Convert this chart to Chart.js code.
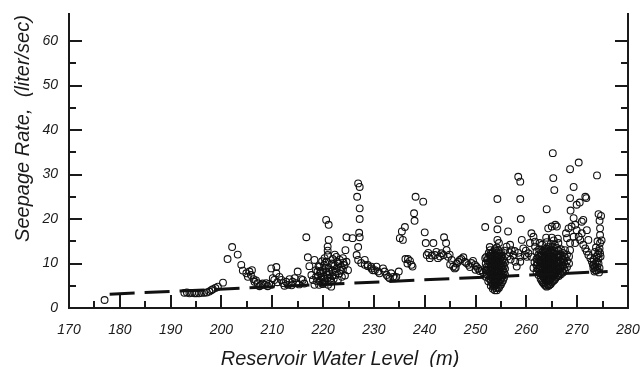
<!DOCTYPE html>
<html>
<head>
<meta charset="utf-8">
<script src="https://cdn.jsdelivr.net/npm/chart.js@4/dist/chart.umd.min.js"></script>
<style>
  html, body { margin: 0; padding: 0; background: #fff; }
  #wrap { width: 641px; height: 367px; }
</style>
</head>
<body>
<div id="wrap"><canvas id="chart"></canvas></div>
<script>
// axis ranges / ticks
const xRange = [170, 280];
const yRange = [0, 66.3];
const xTickLabels = [170, 180, 190, 200, 210, 220, 230, 240, 250, 260, 270, 280];
const yTickLabels = [0, 10, 20, 30, 40, 50, 60];

// fitted trend (dashed)
const trendLevel = [178, 276];
const trendRate = [3.1, 8.2];

// observations: [reservoir level (m), seepage (l/s)], grouped by level band
const band190 = [
  [177, 1.8], [192.7, 3.4], [193.2, 3.5], [193.7, 3.3], [194.2, 3.4], [194.7, 3.3], [195.1, 3.3],
  [195.6, 3.3], [196.1, 3.4], [196.6, 3.4], [197.1, 3.5], [197.6, 3.7], [198.0, 4.0], [198.3, 4.2],
  [198.8, 4.5], [199.3, 4.8], [200.3, 5.7]
];
const band205 = [
  [201.2, 11.0], [202.1, 13.7], [203.2, 12.0], [203.9, 9.7], [204.2, 8.4], [204.9, 7.8], [205.2, 7.0],
  [205.5, 8.2], [206.0, 8.5], [205.8, 7.4], [206.3, 6.5], [206.5, 5.9], [206.8, 6.2], [207.1, 5.6],
  [207.5, 4.9], [207.8, 5.2], [208.1, 5.5], [208.5, 5.2], [208.8, 5.6], [209.1, 4.9], [209.4, 5.4],
  [209.8, 5.2], [209.8, 8.9], [210.8, 9.2], [210.1, 6.7], [210.4, 6.3], [210.8, 7.8], [211.0, 5.8],
  [211.4, 7.0], [211.8, 6.3], [212.1, 5.6], [212.4, 5.0], [212.7, 5.9], [213.1, 5.2], [213.4, 6.5],
  [213.8, 5.1], [214.0, 5.9], [214.4, 6.7], [214.7, 5.6], [215.0, 8.2], [215.3, 5.3], [215.7, 6.5],
  [216.0, 6.3], [216.3, 5.5], [216.7, 15.9], [217.0, 11.4], [217.3, 9.4], [217.7, 7.4], [218.0, 6.3],
  [218.3, 5.2], [218.3, 10.8], [218.6, 8.5]
];
const band225 = [
  [220.6, 19.8], [221.1, 18.7], [221.1, 15.3], [220.9, 13.8], [220.9, 12.9], [220.9, 11.9], [222.6, 11.5],
  [223.3, 10.8], [223.9, 11.2], [224.6, 15.9], [225.8, 15.7], [224.4, 13.0], [219.3, 9.3], [220.0, 8.5],
  [221.6, 4.8], [224.6, 10.4], [224.9, 8.5], [218.8, 6.0], [219.0, 7.2], [219.2, 5.2], [219.5, 8.3],
  [219.6, 6.4], [219.8, 5.5], [220.1, 7.1], [220.2, 9.6], [220.4, 6.0], [220.6, 8.0], [220.7, 10.4],
  [220.9, 6.8], [221.1, 9.0], [221.3, 7.6], [221.5, 5.9], [221.7, 10.0], [221.9, 8.4], [222.1, 6.6],
  [222.2, 9.4], [222.4, 7.4], [222.7, 8.9], [222.9, 6.3], [223.0, 10.0], [223.2, 7.8], [223.5, 9.2],
  [223.7, 7.0], [223.9, 8.6], [224.2, 9.6], [224.3, 7.3], [219.8, 10.5], [220.3, 11.2], [221.9, 11.0],
  [222.3, 12.0], [219.4, 7.8], [220.0, 5.4], [218.6, 7.0], [221.0, 5.2],
  [218.9, 8.2], [219.3, 6.1], [219.7, 7.0], [220.2, 6.6], [220.5, 9.0], [220.8, 7.4], [221.2, 8.2],
  [221.4, 6.6], [221.8, 7.2], [222.0, 9.8], [222.5, 8.2], [222.8, 10.4], [223.4, 8.4], [224.0, 10.2],
  [219.1, 9.4], [220.4, 10.2],
  [226.9, 28.0], [227.2, 27.2], [226.7, 25.0], [227.2, 22.4], [227.2, 20.0], [227.1, 16.9], [227.2, 15.9],
  [226.9, 13.7], [226.6, 11.9], [226.9, 10.8], [227.5, 10.1], [228.2, 9.7], [228.8, 9.4], [229.5, 8.9],
  [230.2, 8.5], [230.8, 8.2], [228.2, 10.8], [228.8, 9.7], [229.5, 9.3], [229.8, 8.5], [230.5, 9.3],
  [231.1, 7.8], [231.8, 8.9], [232.1, 8.2], [232.5, 7.4], [232.8, 7.0], [233.1, 6.7], [233.8, 7.0],
  [234.1, 6.7], [233.4, 7.8], [234.4, 7.0], [234.9, 8.2]
];
const band245 = [
  [235.1, 15.7], [235.5, 17.2], [236.1, 18.2], [235.7, 15.3], [236.2, 11.0], [236.7, 11.0], [237.1, 10.6],
  [236.6, 10.0], [237.4, 9.7], [237.6, 9.3], [237.9, 21.3], [238.0, 19.6], [238.2, 25.0], [239.7, 23.9],
  [240.0, 17.0], [240.2, 14.6], [241.7, 14.6], [243.8, 15.9], [244.2, 14.6], [240.4, 11.9], [241.0, 11.2],
  [242.0, 11.9], [242.6, 11.2], [243.3, 12.3], [244.3, 13.0], [244.6, 11.5], [245.3, 10.8], [245.6, 9.3],
  [245.9, 8.9], [246.3, 10.0], [246.9, 10.8], [247.6, 11.4], [247.9, 10.4], [248.6, 9.7], [249.5, 10.6],
  [249.9, 9.7], [250.5, 8.9], [251.2, 8.5], [251.9, 18.2], [251.9, 11.2], [252.2, 8.5], [240.7, 12.4],
  [241.4, 11.8], [242.3, 12.6], [243.0, 11.6], [243.7, 11.9], [244.9, 12.0], [245.0, 9.8], [246.1, 9.1],
  [246.6, 10.4], [247.2, 11.0], [248.2, 10.1], [248.9, 9.2], [249.2, 10.1], [250.2, 9.3], [250.8, 8.3],
  [251.5, 8.0], [250.0, 8.6]
];
const band255 = [
  [252.8, 13.7], [252.9, 13.0], [254.3, 24.5], [254.5, 19.8], [254.3, 17.7], [254.3, 15.3], [254.6, 14.6],
  [256.4, 17.2], [256.8, 14.2], [256.1, 13.8], [257.1, 13.0], [257.4, 11.9], [257.8, 10.4], [258.1, 9.3],
  [258.4, 29.5], [258.8, 28.4], [258.8, 24.5], [258.9, 20.0], [259.1, 15.3], [259.4, 13.4], [259.7, 11.9],
  [258.8, 10.4], [258.8, 11.5], [260.4, 12.3], [260.1, 11.5], [256.7, 12.5], [257.7, 12.8], [255.7, 12.9],
  [256.3, 11.6], [256.9, 10.9], [258.4, 12.4], [259.9, 12.9],
  [252.0, 7.0], [252.0, 8.5], [252.0, 10.0], [252.1, 11.5],
  [252.5, 6.0], [252.5, 7.3], [252.5, 8.6], [252.5, 9.9], [252.5, 11.2], [252.6, 12.4],
  [253.0, 5.0], [253.0, 6.2], [253.0, 7.4], [253.0, 8.6], [253.0, 9.8], [253.0, 11.0], [253.0, 12.2],
  [253.4, 4.3], [253.4, 5.4], [253.4, 6.6], [253.4, 7.8], [253.4, 9.0], [253.4, 10.2], [253.4, 11.4], [253.4, 12.6],
  [253.8, 4.0], [253.8, 5.0], [253.8, 6.1], [253.8, 7.2], [253.8, 8.4], [253.8, 9.6], [253.8, 10.8], [253.8, 12.0], [253.8, 13.2],
  [254.2, 4.0], [254.2, 5.2], [254.2, 6.4], [254.2, 7.6], [254.2, 8.8], [254.2, 10.0], [254.2, 11.2], [254.2, 12.4], [254.2, 13.6],
  [254.6, 4.5], [254.6, 5.7], [254.6, 6.9], [254.6, 8.1], [254.6, 9.3], [254.6, 10.5], [254.6, 11.7], [254.6, 12.9],
  [255.0, 5.3], [255.0, 6.5], [255.0, 7.7], [255.0, 8.9], [255.0, 10.1], [255.0, 11.3], [255.0, 12.5],
  [255.4, 6.2], [255.4, 7.4], [255.4, 8.6], [255.4, 9.8], [255.4, 11.0],
  [255.8, 7.5], [255.8, 8.8], [255.8, 10.2],
  [252.2, 7.6], [252.2, 9.2], [252.3, 10.8], [252.7, 6.6], [252.7, 8.0], [252.7, 9.3], [252.8, 10.6], [252.8, 11.8],
  [253.2, 5.6], [253.2, 6.8], [253.2, 8.0], [253.2, 9.2], [253.2, 10.4], [253.2, 11.6],
  [253.6, 4.8], [253.6, 6.0], [253.6, 7.2], [253.6, 8.4], [253.6, 9.6], [253.6, 10.8], [253.6, 12.0],
  [254.0, 4.5], [254.0, 5.6], [254.0, 6.8], [254.0, 8.0], [254.0, 9.2], [254.0, 10.4], [254.0, 11.6], [254.0, 12.8],
  [254.4, 4.6], [254.4, 5.8], [254.4, 7.0], [254.4, 8.2], [254.4, 9.4], [254.4, 10.6], [254.4, 11.8],
  [254.8, 5.0], [254.8, 6.2], [254.8, 7.4], [254.8, 8.6], [254.8, 9.8], [254.8, 11.0], [254.8, 12.2],
  [255.2, 5.8], [255.2, 7.0], [255.2, 8.2], [255.2, 9.4], [255.2, 10.6], [255.2, 11.8],
  [255.6, 6.8], [255.6, 8.1], [255.6, 9.4], [255.6, 10.6]
];
const band265 = [
  [261.0, 16.8], [261.4, 16.0], [261.7, 14.9], [261.7, 13.8], [262.0, 12.7], [261.0, 11.5], [260.7, 14.6],
  [262.4, 10.8], [264.0, 22.2], [264.3, 17.9], [265.0, 18.3], [265.7, 18.7], [266.0, 18.3], [265.2, 34.8],
  [265.3, 29.2], [265.5, 26.5], [268.6, 31.2], [270.3, 32.7], [269.3, 27.2], [268.6, 24.7], [268.7, 21.9],
  [269.3, 20.2], [269.9, 23.2], [270.5, 23.7], [271.6, 25.0], [271.8, 24.7], [271.2, 19.8], [273.9, 29.8],
  [274.2, 21.1], [274.7, 20.7], [274.4, 19.6], [274.5, 17.9], [274.5, 16.4], [274.5, 14.6], [274.4, 13.4],
  [274.5, 12.3], [274.2, 11.2], [274.2, 10.0], [273.9, 9.3], [273.6, 8.5],
  [270.6, 15.3], [271.2, 14.2], [271.6, 13.4], [271.9, 12.7], [272.2, 11.9], [272.6, 11.2], [272.9, 10.4],
  [273.1, 9.7], [273.2, 8.9], [267.8, 16.8], [268.0, 15.7], [268.3, 17.9], [268.9, 18.3], [269.6, 18.7],
  [269.9, 17.5], [270.9, 19.4], [269.3, 16.0], [270.3, 16.0], [268.6, 14.6], [269.6, 14.6], [270.9, 16.8],
  [271.9, 17.5], [272.2, 15.3], [273.3, 10.8], [273.6, 9.9], [273.8, 11.6], [274.0, 8.8], [273.5, 12.6],
  [274.1, 12.0], [273.7, 13.6], [274.8, 15.2], [274.0, 15.0], [273.4, 8.2], [274.3, 8.0],
  [273.5, 9.2], [273.9, 10.4], [274.4, 9.0], [273.8, 8.4], [274.2, 12.8], [274.6, 11.6], [273.2, 9.6],
  [261.4, 9.0], [261.6, 10.3], [262.0, 8.2], [262.0, 9.6], [262.0, 11.0], [262.4, 7.4], [262.4, 8.8],
  [262.4, 12.0], [262.5, 13.2], [262.8, 6.6], [262.8, 8.0], [262.8, 9.4], [262.8, 10.8], [262.8, 12.4],
  [263.2, 5.8], [263.2, 7.2], [263.2, 8.6], [263.2, 10.0], [263.2, 11.4], [263.2, 12.8],
  [263.6, 5.2], [263.6, 6.5], [263.6, 7.8], [263.6, 9.1], [263.6, 10.4], [263.6, 11.8], [263.6, 13.2],
  [264.0, 4.8], [264.0, 6.0], [264.0, 7.2], [264.0, 8.4], [264.0, 9.6], [264.0, 10.8], [264.0, 12.0], [264.0, 13.4], [264.0, 14.8],
  [264.4, 5.0], [264.4, 6.2], [264.4, 7.4], [264.4, 8.6], [264.4, 9.8], [264.4, 11.0], [264.4, 12.4], [264.4, 13.8],
  [264.8, 5.4], [264.8, 6.6], [264.8, 7.8], [264.8, 9.0], [264.8, 10.2], [264.8, 11.6], [264.8, 13.0], [264.8, 14.4],
  [265.2, 6.0], [265.2, 7.2], [265.2, 8.4], [265.2, 9.6], [265.2, 10.8], [265.2, 12.2], [265.2, 13.6],
  [265.6, 6.4], [265.6, 7.6], [265.6, 8.8], [265.6, 10.0], [265.6, 11.3], [265.6, 12.8], [265.6, 14.2],
  [266.0, 7.0], [266.0, 8.2], [266.0, 9.4], [266.0, 10.6], [266.0, 12.0], [266.0, 13.5],
  [266.4, 7.2], [266.4, 8.6], [266.4, 10.0], [266.4, 11.4], [266.4, 12.8],
  [266.8, 7.6], [266.8, 9.0], [266.8, 10.4], [266.8, 11.8], [266.8, 13.2],
  [267.2, 8.0], [267.2, 9.4], [267.2, 10.8], [267.2, 12.4],
  [267.6, 8.4], [267.6, 9.8], [267.6, 11.4], [267.6, 13.0],
  [268.0, 9.2], [268.0, 10.6], [268.0, 12.0], [268.4, 10.0], [268.4, 11.6], [268.6, 13.0],
  [265.4, 15.2], [266.3, 14.6], [263.1, 14.2], [262.6, 14.6], [263.9, 15.8], [265.0, 15.8], [266.2, 15.6],
  [262.2, 8.8], [262.2, 10.2], [262.6, 7.8], [262.6, 9.1], [262.6, 10.4], [262.6, 11.6],
  [263.0, 6.2], [263.0, 7.6], [263.0, 9.0], [263.0, 10.4], [263.0, 11.8],
  [263.4, 5.5], [263.4, 6.8], [263.4, 8.2], [263.4, 9.6], [263.4, 11.0], [263.4, 12.4],
  [263.8, 5.0], [263.8, 6.2], [263.8, 7.5], [263.8, 8.8], [263.8, 10.1], [263.8, 11.4], [263.8, 12.7],
  [264.2, 5.2], [264.2, 6.6], [264.2, 8.0], [264.2, 9.2], [264.2, 10.4], [264.2, 11.6], [264.2, 12.8],
  [264.6, 5.2], [264.6, 6.4], [264.6, 7.6], [264.6, 8.8], [264.6, 10.0], [264.6, 11.2], [264.6, 12.6],
  [265.0, 5.8], [265.0, 7.0], [265.0, 8.2], [265.0, 9.4], [265.0, 10.6], [265.0, 11.8], [265.0, 13.2],
  [265.4, 6.2], [265.4, 7.4], [265.4, 8.6], [265.4, 9.8], [265.4, 11.0], [265.4, 12.4],
  [265.8, 6.8], [265.8, 8.0], [265.8, 9.2], [265.8, 10.4], [265.8, 11.6],
  [266.2, 7.4], [266.2, 8.8], [266.2, 10.2], [266.2, 11.6],
  [266.6, 7.8], [266.6, 9.2], [266.6, 10.6], [266.6, 12.0],
  [267.0, 8.2], [267.0, 9.6], [267.0, 11.0], [267.4, 8.8], [267.4, 10.2], [267.4, 11.6]
];

const INK = "#1a1a1a";
const FONT = "'Liberation Sans', Arial, sans-serif";

const observations = [band190, band205, band225, band245, band255, band265]
  .flat()
  .map(([x, y]) => ({ x, y }));

// fixed box size, no extra label overhang padding
const fixBox = (w, h) => s => {
  if (w != null) s.width = w;
  if (h != null) s.height = h;
  s.paddingTop = s.paddingBottom = s.paddingLeft = s.paddingRight = 0;
};

// inward tick marks, left/bottom/right frame and axis titles
const framePlugin = {
  id: "frame",
  afterDraw(chart) {
    const { ctx, chartArea: a, scales: { x, y } } = chart;
    ctx.save();
    ctx.strokeStyle = INK;
    ctx.lineWidth = 2;
    ctx.lineCap = "butt";

    ctx.beginPath();
    ctx.moveTo(a.left, a.top);
    ctx.lineTo(a.left, a.bottom);
    ctx.lineTo(a.right, a.bottom);
    ctx.lineTo(a.right, a.top);
    ctx.stroke();

    ctx.beginPath();
    x.ticks.forEach(t => {
      if (t.value % 5 !== 0 || t.value === xRange[0] || t.value === xRange[1]) return;
      const px = Math.round(x.getPixelForValue(t.value));
      const len = t.value % 10 === 0 ? 13 : 7;
      ctx.moveTo(px, a.bottom);
      ctx.lineTo(px, a.bottom - len);
    });
    y.ticks.forEach(t => {
      if (t.value % 5 !== 0 || t.value === 0) return;
      const py = Math.round(y.getPixelForValue(t.value));
      const len = t.value % 10 === 0 ? 13 : 7;
      ctx.moveTo(a.left, py);
      ctx.lineTo(a.left + len, py);
      ctx.moveTo(a.right, py);
      ctx.lineTo(a.right - len, py);
    });
    ctx.stroke();

    ctx.fillStyle = INK;
    ctx.font = `italic 20px ${FONT}`;
    ctx.textAlign = "center";
    ctx.textBaseline = "alphabetic";
    ctx.fillText("Reservoir Water Level  (m)", 340, 365);

    ctx.translate(28.5, 128.5);
    ctx.rotate(-Math.PI / 2);
    ctx.fillText("Seepage Rate,  (liter/sec)", 0, 0);
    ctx.restore();
  }
};

new Chart(document.getElementById("chart"), {
  type: "scatter",
  data: {
    datasets: [
      {
        label: "Observed",
        data: observations,
        pointStyle: "circle",
        pointRadius: 3.4,
        pointBorderWidth: 1.1,
        pointBorderColor: "#111",
        pointBackgroundColor: "rgba(0,0,0,0)",
        order: 2,
      },
      {
        type: "line",
        label: "Trend",
        data: trendLevel.map((x, i) => ({ x, y: trendRate[i] })),
        borderColor: "#111",
        borderWidth: 3,
        borderDash: [25, 10],
        pointRadius: 0,
        fill: false,
        order: 1,
      },
    ],
  },
  options: {
    responsive: true,
    maintainAspectRatio: false,
    animation: false,
    events: [],
    layout: { padding: { top: 13, right: 13, left: 0, bottom: 0 } },
    plugins: { legend: { display: false }, tooltip: { enabled: false } },
    scales: {
      x: {
        type: "linear",
        min: xRange[0],
        max: xRange[1],
        afterFit: fixBox(null, 59),
        grid: { display: false, drawTicks: false },
        border: { display: false },
        ticks: {
          stepSize: 5,
          autoSkip: false,
          maxRotation: 0,
          padding: 14,
          color: INK,
          font: { family: FONT, style: "italic", size: 14 },
          callback: v => (xTickLabels.includes(v) ? v : ""),
        },
      },
      y: {
        type: "linear",
        min: yRange[0],
        max: yRange[1],
        afterFit: fixBox(69, null),
        grid: { display: false, drawTicks: false },
        border: { display: false },
        ticks: {
          stepSize: 5,
          autoSkip: false,
          padding: 11,
          color: INK,
          font: { family: FONT, style: "italic", size: 14 },
          callback: v => (yTickLabels.includes(v) ? v : ""),
        },
      },
    },
  },
  plugins: [framePlugin],
});
</script>
</body>
</html>
